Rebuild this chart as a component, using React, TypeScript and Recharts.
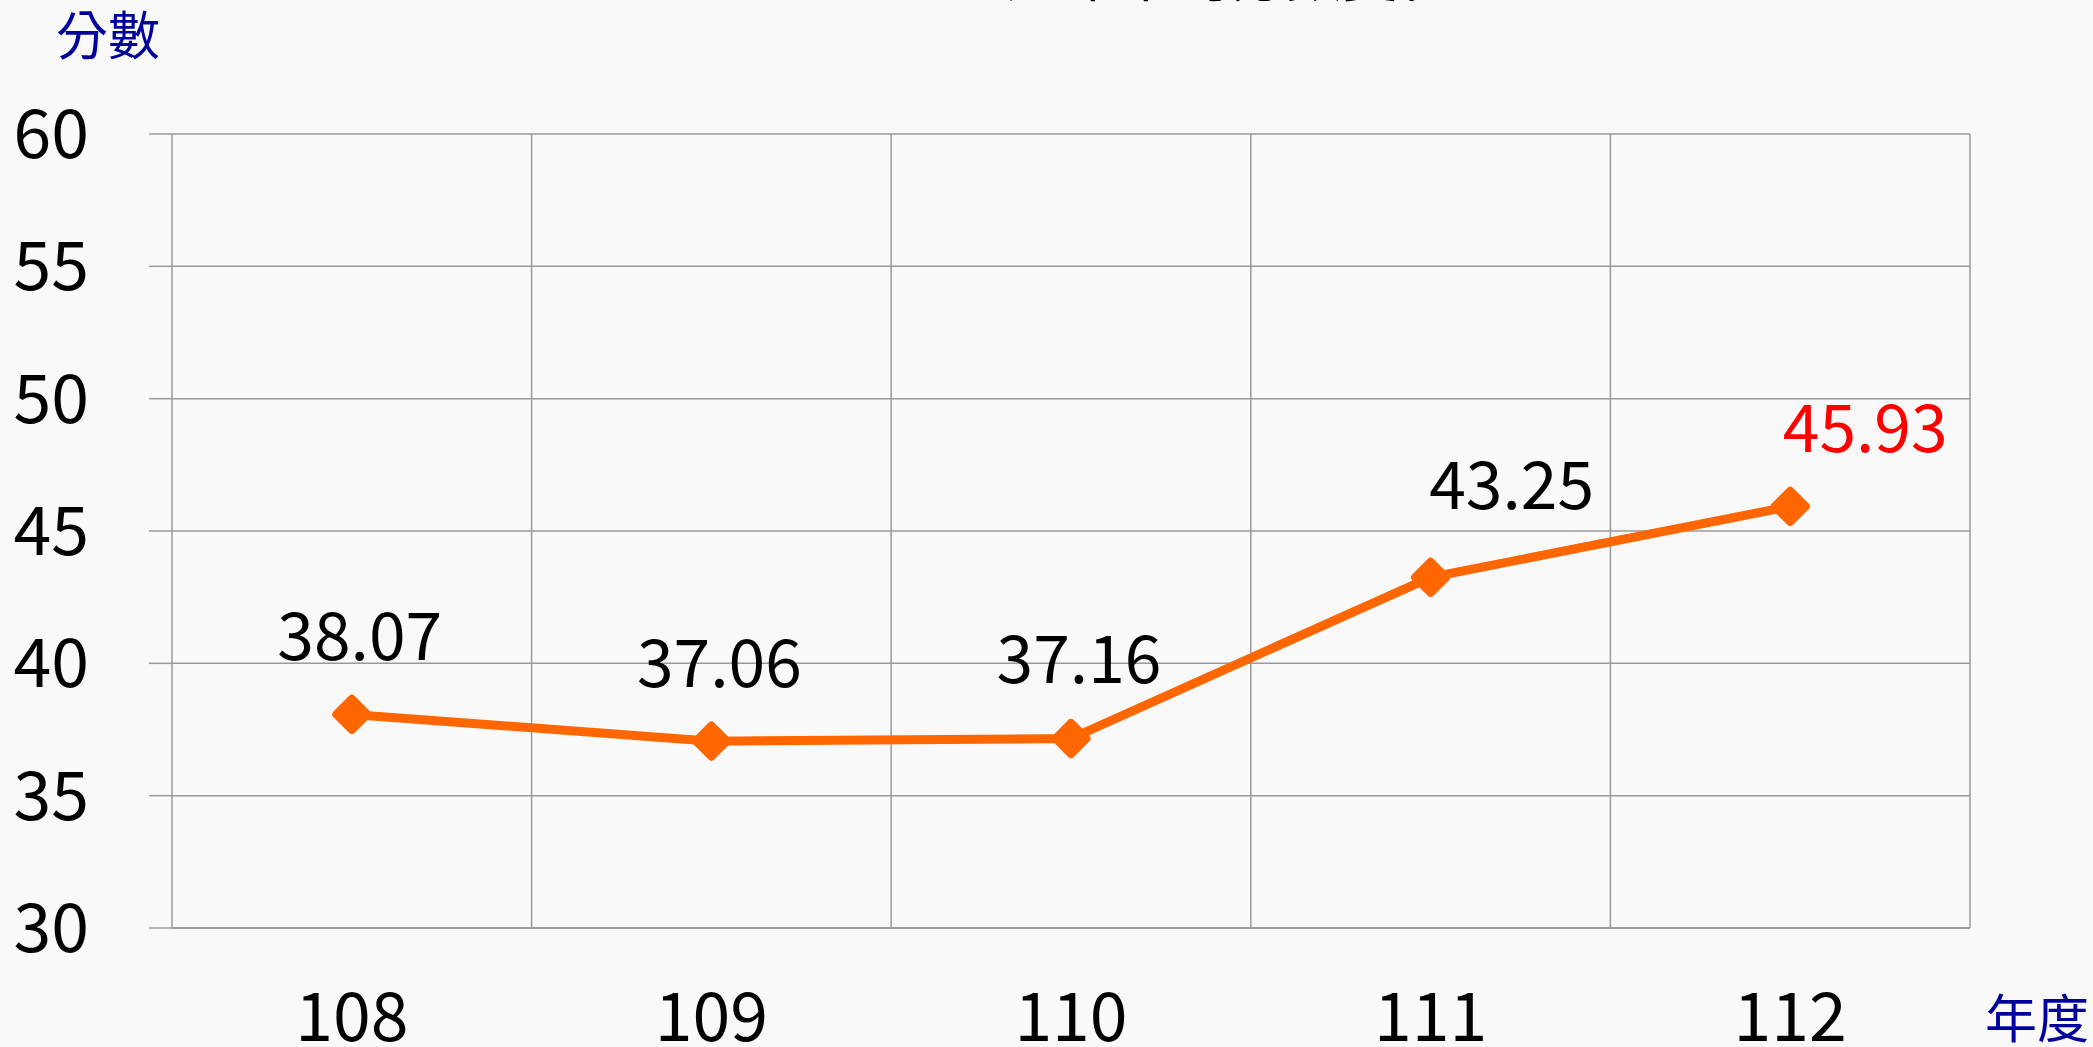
import React from "react";
import { LineChart, Line, XAxis, YAxis, CartesianGrid, ReferenceLine, LabelList } from "recharts";

const years = ["108", "109", "110", "111", "112"];
const scores = [38.07, 37.06, 37.16, 43.25, 45.93];
const yTicks = [30, 35, 40, 45, 50, 55, 60];

// manual label nudges like the original (x shift, height above point)
const labelDx = [8, 8, 8, 81, 75];
const labelLift = [54, 54, 55, 68, 54];

const FONT = "'Noto Sans CJK TC', 'Noto Sans', sans-serif";
const GRID = "#9a9a9a";
const ORANGE = "#FF6600";

const data = years.map((y, i) => ({ idx: i, year: y, score: scores[i] }));
const bounds = years.map((_, i) => i + 0.5);

const Diamond = (props: any) => {
  const { cx, cy } = props;
  if (cx == null || cy == null) return null;
  const s = 30;
  return (
    <rect
      x={cx - s / 2}
      y={cy - s / 2}
      width={s}
      height={s}
      rx={4}
      fill={ORANGE}
      transform={`rotate(45 ${cx} ${cy})`}
    />
  );
};

const ValueLabel = (props: any) => {
  const { x, y, value, index } = props;
  const last = index === scores.length - 1;
  return (
    <text
      x={x + labelDx[index]}
      y={y - labelLift[index]}
      textAnchor="middle"
      fontSize={66}
      fontFamily={FONT}
      fill={last ? "#FF0000" : "#000"}
    >
      {value.toFixed(2)}
    </text>
  );
};

export default function App() {
  return (
    <div style={{ width: 2093, height: 1047, background: "#F9F9F9", position: "relative", overflow: "hidden" }}>
      <style>{`body{margin:0;background:#F9F9F9}`}</style>
      <LineChart
        width={2093}
        height={1047}
        data={data}
        margin={{ top: 134, right: 123, bottom: 0, left: 0 }}
      >
        <text x={1230} y={-4} textAnchor="middle" fontSize={56} fontFamily={FONT} fill="#000">
          歷年平均分數變化
        </text>
        <text x={56} y={55} fontSize={52} fontFamily={FONT} fill="#00009C">
          分數
        </text>
        <text x={1985} y={1038} fontSize={52} fontFamily={FONT} fill="#00009C">
          年度
        </text>
        <CartesianGrid vertical={false} stroke={GRID} strokeWidth={1.5} />
        {bounds.map((b) => (
          <ReferenceLine key={b} x={b} stroke={GRID} strokeWidth={1.5} ifOverflow="extendDomain" />
        ))}
        <XAxis
          dataKey="idx"
          type="number"
          domain={[-0.5, 4.5]}
          ticks={years.map((_, i) => i)}
          tickFormatter={(v: number) => years[v]}
          height={119}
          tickLine={false}
          tickSize={0}
          tickMargin={65}
          axisLine={{ stroke: GRID, strokeWidth: 2 }}
          tick={{ fontSize: 68, fill: "#000", fontFamily: FONT }}
        />
        <YAxis
          domain={[30, 60]}
          ticks={yTicks}
          width={172}
          tickSize={23}
          tickMargin={60}
          interval={0}
          axisLine={{ stroke: GRID, strokeWidth: 1.5 }}
          tickLine={{ stroke: GRID, strokeWidth: 1.5 }}
          tick={{ fontSize: 68, fill: "#000", fontFamily: FONT }}
        />
        <Line
          type="linear"
          dataKey="score"
          stroke={ORANGE}
          strokeWidth={9}
          dot={<Diamond />}
          activeDot={false}
          isAnimationActive={false}
        >
          <LabelList dataKey="score" content={<ValueLabel />} />
        </Line>
      </LineChart>
    </div>
  );
}
